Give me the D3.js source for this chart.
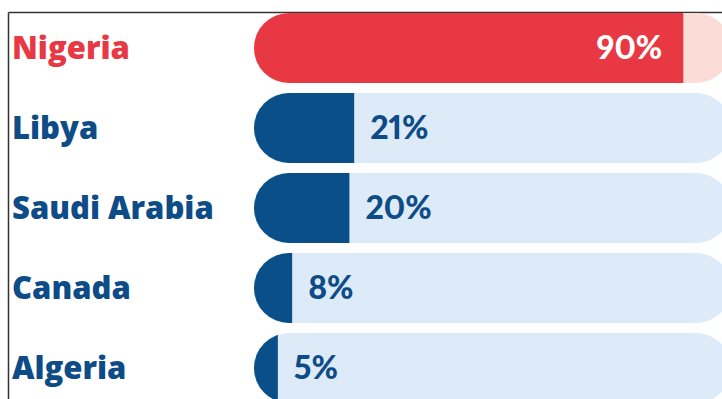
<!DOCTYPE html>
<html>
<head>
<meta charset="utf-8">
<script src="https://cdn.jsdelivr.net/npm/d3@7/dist/d3.min.js"></script>
<style>
  html, body { margin: 0; padding: 0; background: #fff; }
  svg { display: block; }
</style>
</head>
<body>
<svg id="chart" width="722" height="399"></svg>
<script>
// Share of oil output per country (percent)
const countries = ["Nigeria", "Libya", "Saudi Arabia", "Canada", "Algeria"];
const values = [90, 21, 20, 8, 5];
const highlight = "Nigeria";

const W = 722, H = 399;
const svg = d3.select("#chart");
const labelFont = "'Open Sans', 'DejaVu Sans', sans-serif";
const valueFont = "Lato, 'Open Sans', sans-serif";

const x = d3.scaleLinear().domain([0, 100]).range([254, 731]);
const y = d3.scaleBand().domain(countries).range([13, 403]).paddingInner(0.125).paddingOuter(0);
const bh = y.bandwidth();
const r = bh / 2;

// frame lines
svg.append("line").attr("x1", 8.5).attr("x2", 8.5).attr("y1", 12.5).attr("y2", H)
  .attr("stroke", "#333").attr("stroke-width", 1.5);
svg.append("line").attr("x1", 8.5).attr("x2", W).attr("y1", 12.5).attr("y2", 12.5)
  .attr("stroke", "#333").attr("stroke-width", 1.5);

const data = countries.map((c, i) => ({ country: c, value: values[i], hi: c === highlight }));

const defs = svg.append("defs");
data.forEach((d, i) => {
  defs.append("clipPath").attr("id", "clip" + i)
    .append("rect")
    .attr("x", x(0)).attr("y", y(d.country))
    .attr("width", x(d.value) - x(0)).attr("height", bh);
});

const row = svg.selectAll("g.row").data(data).join("g").attr("class", "row");

// background track
row.append("rect")
  .attr("x", x(0)).attr("y", d => y(d.country))
  .attr("width", x(100) - x(0)).attr("height", bh)
  .attr("rx", r).attr("ry", r)
  .attr("fill", d => d.hi ? "#fbdcd7" : "#ddeaf8");

// value fill: rounded track clipped at the value
row.append("rect")
  .attr("clip-path", (d, i) => `url(#clip${i})`)
  .attr("x", x(0)).attr("y", d => y(d.country))
  .attr("width", x(100) - x(0)).attr("height", bh)
  .attr("rx", r).attr("ry", r)
  .attr("fill", d => d.hi ? "#e73843" : "#0b4f8a");

// country labels
row.append("text")
  .attr("x", 12).attr("y", d => y(d.country) + r + 11)
  .attr("font-family", labelFont).attr("font-weight", 800).attr("font-size", 31)
  .attr("fill", d => d.hi ? "#e73843" : "#0d4c87")
  .text(d => d.country);

// value labels
row.append("text")
  .attr("x", d => d.hi ? x(d.value) - 21 : x(d.value) + 16)
  .attr("y", d => y(d.country) + r + 11)
  .attr("text-anchor", d => d.hi ? "end" : "start")
  .attr("font-family", valueFont).attr("font-weight", 900).attr("font-size", 32)
  .style("font-variant-numeric", "proportional-nums")
  .attr("fill", d => d.hi ? "#ffffff" : "#0d4c87")
  .text(d => d.value + "%");
</script>
</body>
</html>
